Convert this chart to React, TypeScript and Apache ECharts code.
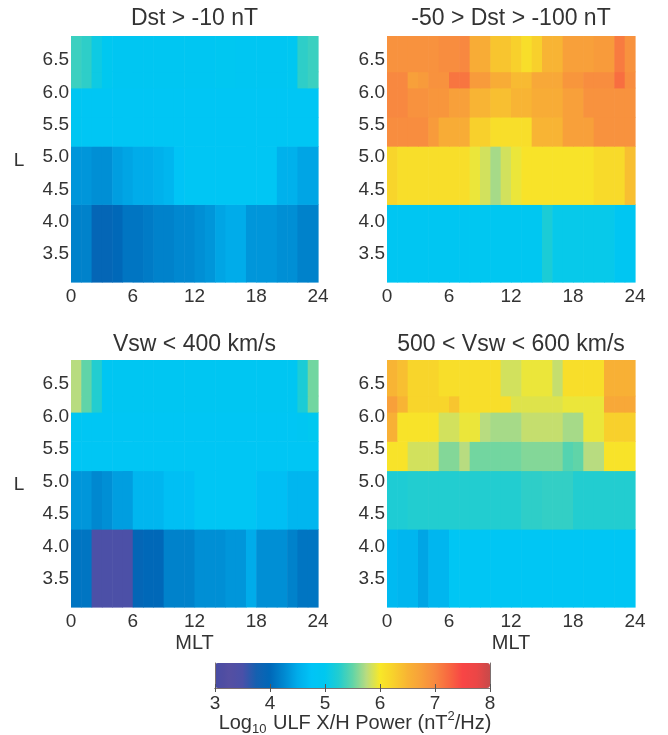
import React, { useEffect, useRef } from 'react';
import * as echarts from 'echarts';

// ---- axes / bins ----
const MLT_EDGES = [0, 1, 2, 3, 4, 5, 6, 7, 8, 9, 10, 11, 12, 13, 14, 15, 16, 17, 18, 19, 20, 21, 22, 23, 24];
const L_EDGES = [3.05, 4.25, 5.15, 5.6, 6.05, 6.3, 6.85];
const MLT_TICKS = [0, 6, 12, 18, 24];
const L_TICKS = [3.5, 4.0, 4.5, 5.0, 5.5, 6.0, 6.5];
const CBAR_TICKS = [3, 4, 5, 6, 7, 8];
const TITLES = ['Dst > -10 nT', '-50 > Dst > -100 nT', 'Vsw < 400 km/s', '500 < Vsw < 600 km/s'];

// ---- panel 1 : Dst > -10 nT (rows from low L to high L) ----
const dstQuietR0 = [4.2, 4.2, 3.95, 3.95, 4.0, 4.1, 4.1, 4.15, 4.2, 4.2, 4.25, 4.25, 4.3, 4.35, 4.45, 4.5, 4.5, 4.35, 4.35, 4.35, 4.3, 4.3, 4.2, 4.2];
const dstQuietR1 = [4.35, 4.35, 4.3, 4.3, 4.4, 4.45, 4.5, 4.5, 4.55, 4.6, 4.75, 4.85, 4.85, 4.85, 4.85, 4.85, 4.85, 4.85, 4.85, 4.85, 4.55, 4.55, 4.45, 4.45];
const dstQuietR2 = [4.9, 4.85, 4.85, 4.85, 4.85, 4.85, 4.85, 4.85, 4.85, 4.85, 4.85, 4.85, 4.85, 4.85, 4.85, 4.85, 4.85, 4.85, 4.85, 4.85, 4.85, 4.85, 4.85, 4.85];
const dstQuietR3 = [4.9, 4.85, 4.85, 4.85, 4.85, 4.85, 4.85, 4.85, 4.85, 4.85, 4.85, 4.85, 4.85, 4.85, 4.85, 4.85, 4.85, 4.85, 4.85, 4.85, 4.85, 4.85, 4.85, 4.85];
const dstQuietR4 = [5.35, 5.3, 5.1, 5.0, 4.9, 4.9, 4.9, 4.9, 4.9, 4.9, 4.9, 4.9, 4.9, 4.9, 4.95, 4.95, 4.9, 4.9, 4.9, 4.9, 4.9, 4.95, 5.3, 5.35];
const dstQuietR5 = [5.35, 5.3, 5.1, 5.0, 4.9, 4.9, 4.9, 4.9, 4.9, 4.9, 4.9, 4.9, 4.9, 4.9, 4.95, 4.95, 4.9, 4.9, 4.9, 4.9, 4.9, 4.95, 5.3, 5.35];

// ---- panel 2 : -50 > Dst > -100 nT ----
const dstStormR0 = [4.9, 4.9, 4.9, 4.9, 4.9, 4.9, 4.9, 4.9, 4.95, 4.95, 4.95, 4.95, 4.95, 4.95, 4.95, 5.2, 5.05, 5.05, 5.05, 5.05, 5.05, 5.05, 4.9, 4.9];
const dstStormR1 = [6.2, 6.1, 6.1, 6.1, 6.1, 6.1, 6.1, 6.1, 5.95, 5.85, 5.7, 5.85, 5.95, 6.05, 6.05, 6.05, 6.05, 6.05, 6.05, 6.05, 6.15, 6.15, 6.15, 6.4];
const dstStormR2 = [6.95, 6.95, 6.95, 6.95, 6.8, 6.6, 6.6, 6.6, 6.25, 6.25, 6.1, 6.1, 6.1, 6.1, 6.5, 6.5, 6.5, 6.75, 6.75, 6.75, 6.9, 6.9, 6.9, 6.9];
const dstStormR3 = [7.0, 7.0, 6.9, 6.9, 6.85, 6.85, 6.75, 6.75, 6.5, 6.5, 6.4, 6.4, 6.5, 6.5, 6.6, 6.6, 6.6, 6.75, 6.75, 6.9, 6.9, 6.9, 6.9, 6.9];
const dstStormR4 = [7.0, 7.0, 6.75, 6.8, 6.9, 6.9, 7.15, 7.15, 6.8, 6.8, 6.6, 6.6, 6.45, 6.45, 6.65, 6.65, 6.65, 6.85, 6.85, 6.95, 6.95, 6.95, 7.2, 6.95];
const dstStormR5 = [6.9, 6.9, 6.9, 6.9, 6.9, 6.95, 6.95, 7.0, 6.6, 6.6, 6.35, 6.35, 6.25, 6.1, 6.25, 6.5, 6.5, 6.75, 6.75, 6.75, 6.8, 6.8, 7.1, 6.9];

// ---- panel 3 : Vsw < 400 km/s ----
const vswSlowR0 = [4.1, 4.1, 3.45, 3.45, 3.45, 3.45, 3.95, 4.0, 4.0, 4.2, 4.2, 4.2, 4.3, 4.3, 4.3, 4.35, 4.35, 4.5, 4.3, 4.3, 4.3, 4.2, 4.1, 4.1];
const vswSlowR1 = [4.35, 4.35, 4.25, 4.3, 4.4, 4.4, 4.6, 4.6, 4.6, 4.7, 4.7, 4.7, 4.85, 4.85, 4.85, 4.85, 4.85, 4.85, 4.7, 4.7, 4.7, 4.6, 4.6, 4.6];
const vswSlowR2 = [4.85, 4.85, 4.85, 4.85, 4.85, 4.85, 4.85, 4.85, 4.85, 4.85, 4.85, 4.85, 4.85, 4.85, 4.85, 4.85, 4.85, 4.85, 4.85, 4.85, 4.85, 4.85, 4.85, 4.85];
const vswSlowR3 = [4.9, 4.85, 4.85, 4.85, 4.85, 4.85, 4.85, 4.85, 4.85, 4.85, 4.85, 4.85, 4.85, 4.85, 4.85, 4.85, 4.85, 4.85, 4.85, 4.85, 4.85, 4.85, 4.9, 5.0];
const vswSlowR4 = [5.75, 5.5, 5.25, 4.9, 4.9, 4.9, 4.9, 4.9, 4.9, 4.9, 4.9, 4.9, 4.9, 4.9, 4.9, 4.9, 4.9, 4.9, 4.9, 4.9, 4.9, 4.9, 5.2, 5.55];
const vswSlowR5 = [5.75, 5.5, 5.25, 4.9, 4.9, 4.9, 4.9, 4.9, 4.9, 4.9, 4.9, 4.9, 4.9, 4.9, 4.9, 4.9, 4.9, 4.9, 4.9, 4.9, 4.9, 4.9, 5.2, 5.55];

// ---- panel 4 : 500 < Vsw < 600 km/s ----
const vswFastR0 = [4.65, 4.6, 4.6, 4.45, 4.6, 4.6, 4.85, 4.85, 4.85, 4.85, 4.85, 4.85, 4.85, 4.85, 4.85, 4.85, 4.85, 4.85, 4.85, 4.85, 4.85, 4.85, 4.85, 4.85];
const vswFastR1 = [5.22, 5.22, 5.25, 5.25, 5.25, 5.25, 5.25, 5.25, 5.25, 5.25, 5.25, 5.25, 5.25, 5.3, 5.3, 5.32, 5.32, 5.32, 5.25, 5.25, 5.25, 5.25, 5.25, 5.25];
const vswFastR2 = [6.05, 6.05, 5.85, 5.85, 5.85, 5.6, 5.6, 5.75, 5.55, 5.55, 5.55, 5.55, 5.55, 5.6, 5.6, 5.6, 5.6, 5.45, 5.5, 5.75, 5.75, 6.05, 6.05, 6.05];
const vswFastR3 = [6.55, 6.05, 6.05, 6.05, 6.05, 5.85, 5.85, 5.95, 5.95, 5.75, 5.7, 5.7, 5.7, 5.8, 5.8, 5.8, 5.8, 5.7, 5.7, 5.95, 5.95, 6.25, 6.25, 6.25];
const vswFastR4 = [6.75, 6.5, 6.2, 6.2, 6.2, 6.2, 6.35, 6.1, 6.1, 6.1, 6.1, 6.1, 5.9, 5.9, 5.9, 5.9, 5.9, 5.95, 5.95, 5.95, 5.95, 6.65, 6.65, 6.65];
const vswFastR5 = [6.5, 6.4, 6.2, 6.2, 6.2, 6.1, 6.1, 6.1, 6.1, 6.1, 6.1, 5.85, 5.85, 5.95, 5.95, 5.95, 5.8, 6.1, 6.1, 6.1, 6.1, 6.55, 6.55, 6.55];

const PANELS = [
  [dstQuietR0, dstQuietR1, dstQuietR2, dstQuietR3, dstQuietR4, dstQuietR5],
  [dstStormR0, dstStormR1, dstStormR2, dstStormR3, dstStormR4, dstStormR5],
  [vswSlowR0, vswSlowR1, vswSlowR2, vswSlowR3, vswSlowR4, vswSlowR5],
  [vswFastR0, vswFastR1, vswFastR2, vswFastR3, vswFastR4, vswFastR5],
];

// colour map, evenly spaced from 3 to 8 (step 0.25)
const CMAP = [
  '#474ba3', '#554fa2', '#4a50a8', '#1560b0', '#0068b8', '#0088d0', '#00acea', '#00c4f6',
  '#00c8f0', '#22cdd0', '#60d4a8', '#b8dc80', '#f8e828', '#f8d02c', '#f8b434', '#f8a03a',
  '#f88840', '#f86840', '#f84545', '#ec4646', '#c84a4a',
];

const FONT = 'Liberation Sans, Arial, Helvetica, sans-serif';
const TXT = '#333333';

const GRIDS = [
  { left: 71, top: 36, width: 247, height: 246 },
  { left: 387, top: 36, width: 248, height: 246 },
  { left: 71, top: 360, width: 247, height: 247 },
  { left: 387, top: 360, width: 248, height: 247 },
];

function buildData(rows: number[][]) {
  const out: number[][] = [];
  rows.forEach((row, i) => {
    row.forEach((v, h) => {
      out.push([MLT_EDGES[h], MLT_EDGES[h + 1], L_EDGES[i], L_EDGES[i + 1], v]);
    });
  });
  return out;
}

export default function App() {
  const ref = useRef<HTMLDivElement>(null);
  useEffect(() => {
    if (!ref.current) return;
    const chart = echarts.init(ref.current, undefined, { renderer: 'svg' });

    const xAxes: any[] = GRIDS.map((_, i) => ({
      type: 'value', gridIndex: i, min: 0, max: 24, interval: 6,
      axisLine: { show: false }, axisTick: { show: false }, splitLine: { show: false },
      axisLabel: { fontSize: 19, color: TXT, fontFamily: FONT, margin: 4, customValues: MLT_TICKS },
    }));
    const yAxes: any[] = GRIDS.map((_, i) => ({
      type: 'value', gridIndex: i, min: L_EDGES[0], max: L_EDGES[L_EDGES.length - 1],
      axisLine: { show: false }, axisTick: { show: false }, splitLine: { show: false },
      axisLabel: {
        fontSize: 19, color: TXT, fontFamily: FONT, margin: 2, customValues: L_TICKS,
        formatter: (v: number) => v.toFixed(1),
      },
    }));
    // colour bar axes
    xAxes.push({
      type: 'value', gridIndex: 4, min: 3, max: 8, interval: 1, position: 'bottom', z: 10,
      axisLine: { show: true, lineStyle: { color: '#7d7070', width: 1 } },
      axisTick: { show: true, inside: true, length: 4, lineStyle: { color: '#555' } },
      splitLine: { show: false },
      axisLabel: { fontSize: 19, color: TXT, fontFamily: FONT, margin: 5, customValues: CBAR_TICKS },
    });
    xAxes.push({
      type: 'value', gridIndex: 4, min: 3, max: 8, interval: 1, position: 'top', z: 10,
      axisLine: { show: true, lineStyle: { color: '#7d7070', width: 1 } },
      axisTick: { show: true, inside: true, length: 4, lineStyle: { color: '#555' } },
      splitLine: { show: false }, axisLabel: { show: false },
    });
    yAxes.push({
      type: 'value', gridIndex: 4, min: 0, max: 1, position: 'left', z: 10,
      axisLine: { show: true, lineStyle: { color: '#7d7070', width: 1 } },
      axisTick: { show: false }, splitLine: { show: false }, axisLabel: { show: false },
    });
    yAxes.push({
      type: 'value', gridIndex: 4, min: 0, max: 1, position: 'right', z: 10,
      axisLine: { show: true, lineStyle: { color: '#7d7070', width: 1 } },
      axisTick: { show: false }, splitLine: { show: false }, axisLabel: { show: false },
    });

    const series: any[] = PANELS.map((rows, i) => ({
      type: 'custom',
      xAxisIndex: i,
      yAxisIndex: i,
      encode: { x: [0, 1], y: [2, 3] },
      data: buildData(rows),
      renderItem: (params: any, api: any) => {
        const p0 = api.coord([api.value(0), api.value(3)]);
        const p1 = api.coord([api.value(1), api.value(2)]);
        return {
          type: 'rect',
          shape: { x: p0[0], y: p0[1], width: p1[0] - p0[0] + 0.6, height: p1[1] - p0[1] + 0.6 },
          style: { fill: api.visual('color') },
        };
      },
    }));

    const label = (text: string, x: number, y: number, size: number) => ({
      type: 'text', x, y,
      style: { text, fontSize: size, fill: TXT, fontFamily: FONT, align: 'center', verticalAlign: 'middle' },
    });

    const option: any = {
      animation: false,
      grid: [...GRIDS, { left: 215, top: 663, width: 275, height: 25 }],
      xAxis: xAxes,
      yAxis: yAxes,
      visualMap: {
        type: 'continuous', min: 3, max: 8, orient: 'horizontal',
        left: 215, top: 663, itemWidth: 25, itemHeight: 275,
        calculable: false, padding: 0, hoverLink: false,
        seriesIndex: [0, 1, 2, 3], dimension: 4,
        inRange: { color: CMAP },
      },
      series,
      graphic: [
        label(TITLES[0], 194.5, 17, 23),
        label(TITLES[1], 511, 17, 23),
        label(TITLES[2], 194.5, 343, 23),
        label(TITLES[3], 511, 343, 23),
        label('L', 19, 159, 19),
        label('L', 19, 483, 19),
        label('MLT', 194.5, 642, 20),
        label('MLT', 511, 642, 20),
        {
          type: 'text', x: 355, y: 722,
          style: {
            text: '{a|Log}{s|10}{a| ULF X/H Power (nT}{p|2}{a|/Hz)}',
            align: 'center', verticalAlign: 'middle',
            rich: {
              a: { fontSize: 20, fill: TXT, fontFamily: FONT, lineHeight: 26, verticalAlign: 'middle' },
              s: { fontSize: 13, fill: TXT, fontFamily: FONT, lineHeight: 26, verticalAlign: 'bottom', padding: [0, 1, 0, 0] },
              p: { fontSize: 13, fill: TXT, fontFamily: FONT, lineHeight: 26, verticalAlign: 'top' },
            },
          },
        },
      ],
    };
    chart.setOption(option);
    return () => chart.dispose();
  }, []);
  return <div ref={ref} style={{ position: 'fixed', left: 0, top: 0, width: 668, height: 735 }} />;
}
